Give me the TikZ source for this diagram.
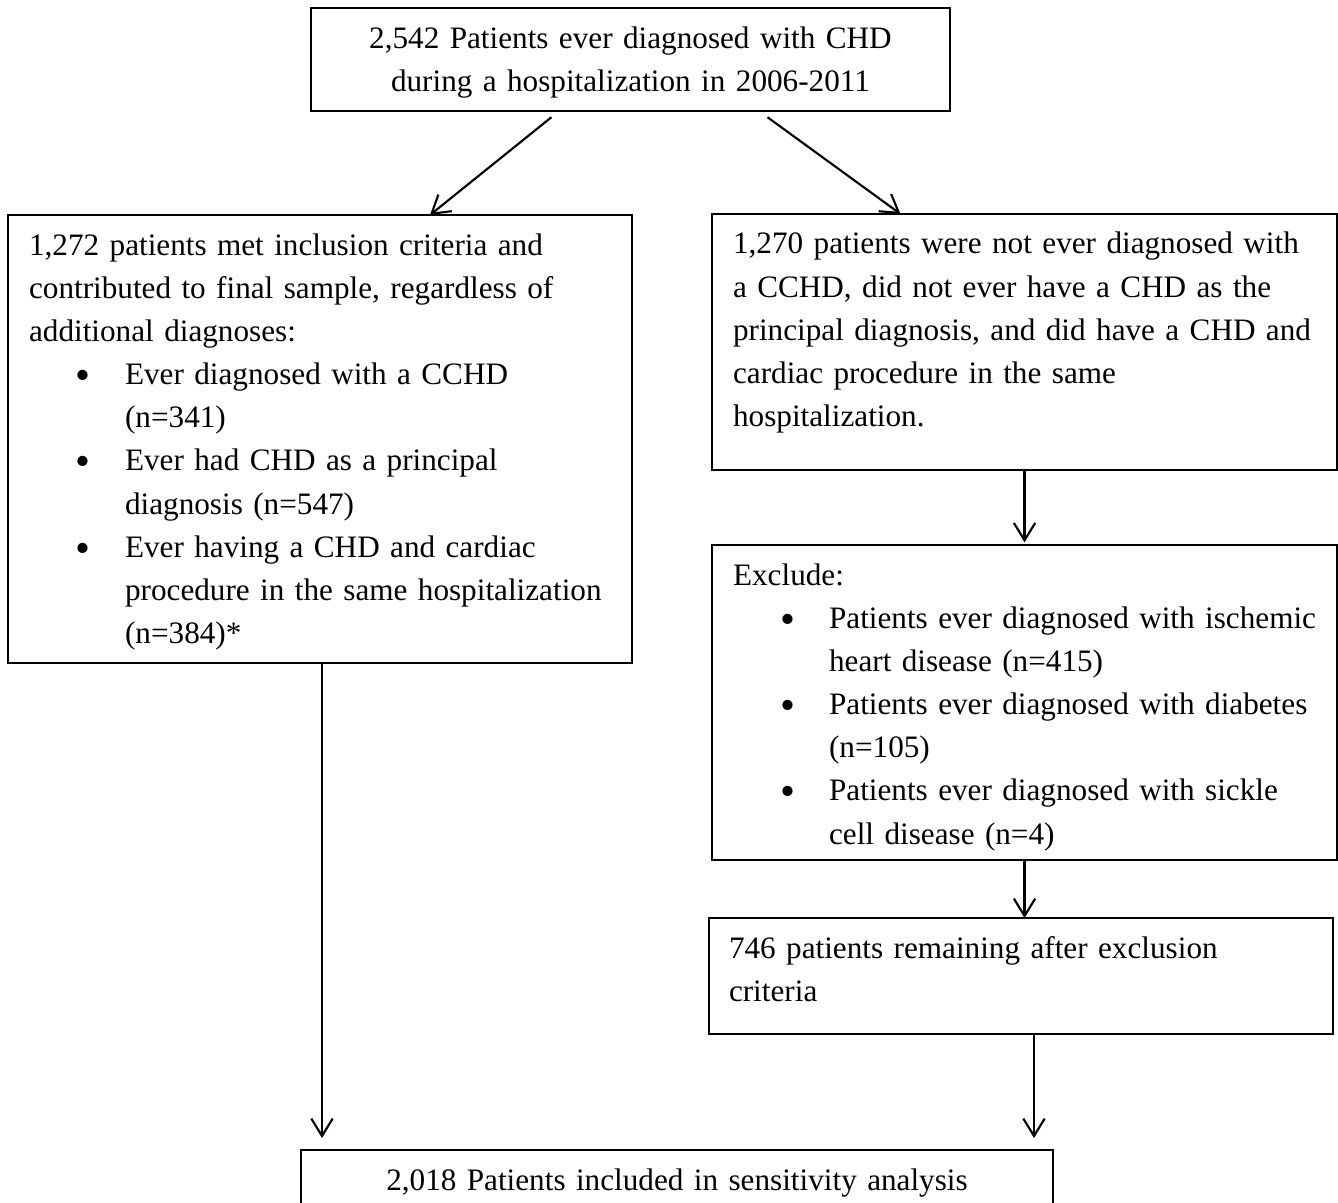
\documentclass[tikz,border=0pt]{standalone}
\usepackage{fontspec}
\setmainfont{Liberation Serif}
\usetikzlibrary{arrows.meta,calc}

\newcommand{\listdot}{\hspace*{17.6pt}\makebox[18.4pt][l]{\raisebox{-1.8pt}{\fontsize{16pt}{16pt}\selectfont\textbullet}}}
\newcommand{\listgap}{\hspace*{36pt}}
\newcommand{\firstln}{\rule{0pt}{15pt}}
\newcommand{\lastln}[1]{\rule[-#1]{0pt}{#1}}
\newcommand{\nobreaks}{\rightskip=-14pt plus 1fil\hyphenpenalty=10000\exhyphenpenalty=10000\relax}

\tikzset{
    box/.style={draw, line width=0.6pt, anchor=north west, inner ysep=0pt, inner xsep=7.9pt,
        outer sep=0pt, align=left, font=\fontsize{11.7pt}{16.2pt}\selectfont},
    arr/.style={-{Straight Barb[length=6.5pt,width=8pt]}, line width=0.8pt}
}

\begin{document}
\begin{tikzpicture}[x=0.375pt, y=-0.375pt]
    \useasboundingbox (0,0) rectangle (1338,1203);
    \clip (0,0) rectangle (1338,1203);
    \node[box, text width=239.6pt, inner xsep=0pt, align=center] (top) at (311,8)
        {\firstln 2,542 Patients ever diagnosed with CHD\\during a hospitalization in 2006-2011\lastln{7.5pt}};
    % Inclusion branch
    \node[box, text width=218.2pt] (incl) at (8,215) {\nobreaks\firstln 1,272 patients met inclusion criteria and\\
        contributed to final sample, regardless of\\
        additional diagnoses:\\
        \listdot Ever diagnosed with a CCHD\\
        \listgap (n=341)\\
        \listdot Ever had CHD as a principal\\
        \listgap diagnosis (n=547)\\
        \listdot Ever having a CHD and cardiac\\
        \listgap procedure in the same hospitalization\\
        \listgap (n=384)*\lastln{7.2pt}};
    % Exclusion branch
    \node[box, text width=218.6pt] (nd) at (712,214) {\nobreaks\firstln 1,270 patients were not ever diagnosed with\\
        a CCHD, did not ever have a CHD as the\\
        principal diagnosis, and did have a CHD and\\
        cardiac procedure in the same\\
        hospitalization.\lastln{16.2pt}};
    \node[box, text width=218.6pt] (exc) at (712,545) {\nobreaks\firstln Exclude:\\
        \listdot Patients ever diagnosed with ischemic\\
        \listgap heart disease (n=415)\\
        \listdot Patients ever diagnosed with diabetes\\
        \listgap (n=105)\\
        \listdot Patients ever diagnosed with sickle\\
        \listgap cell disease (n=4)\lastln{5.9pt}};
    \node[box, text width=219pt, inner xsep=7.5pt] (rem) at (709,918) {\nobreaks\firstln 746 patients remaining after exclusion\\
        criteria\lastln{12.3pt}};
    \node[box, text width=282pt, inner xsep=0pt, align=center] (fin) at (301,1150)
        {\firstln 2,018 Patients included in sensitivity analysis\lastln{15pt}};
    % Arrows
    \draw[arr] ($(top.south)+(-79,6)$) -- ($(incl.north)+(110,0)$);
    \draw[arr] ($(top.south)+(137,6)$) -- ($(nd.north)+(-124,0)$);
    \draw[arr, shorten >=4.5pt] ($(incl.south)+(2,0)$) -- ($(incl.south |- fin.north)+(2,0)$);
    \draw[arr, shorten >=1pt] (nd.south) -- (exc.north);
    \draw[arr] (exc.south) -- (exc.south |- rem.north);
    \draw[arr, shorten >=4.5pt] ($(rem.south)+(13,0)$) -- ($(rem.south |- fin.north)+(13,0)$);
\end{tikzpicture}
\end{document}
